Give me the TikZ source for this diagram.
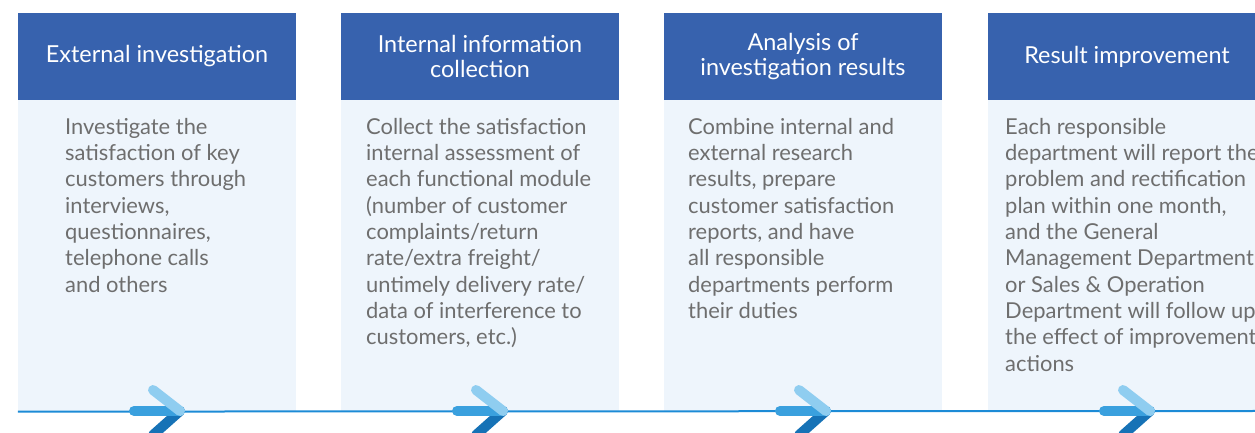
\documentclass[tikz,border=0pt]{standalone}
\usepackage{fontspec}
\setmainfont{Lato}
\usetikzlibrary{positioning}
\definecolor{headblue}{HTML}{3762AE}
\definecolor{bodyblue}{HTML}{EEF5FC}
\definecolor{textgrey}{HTML}{6E6E6E}
\definecolor{lineblue}{HTML}{1C8BD6}
\definecolor{arrowmid}{HTML}{3AA0DE}
\definecolor{arrowlight}{HTML}{8FCDF0}
\definecolor{arrowdark}{HTML}{1672B6}

\begin{document}
\begin{tikzpicture}[x=1bp, y=-1bp,
  head/.style={fill=headblue, text=white, minimum width=278bp, minimum height=87bp,
    inner sep=0pt, align=center, font=\fontsize{23.5}{26}\selectfont},
  body/.style={fill=bodyblue, minimum width=278bp, minimum height=311bp, inner sep=0pt},
  desc/.style={text=textgrey, align=left, inner sep=0pt, anchor=north west,
    font=\fontsize{22}{26.4}\selectfont},
  chev/.style={line width=10bp, line cap=round}
]
  \useasboundingbox (0,0) rectangle (1255,433);
  \clip (0,0) rectangle (1255,433);

  \node[head] (hd1) at (157,56.5) {External investigation};
  \node[head] (hd2) at (480,56.5) {Internal information\\collection};
  \node[head] (hd3) at (803,56.5) {Analysis of\\investigation results};
  \node[head] (hd4) at (1127,56.5) {Result improvement};

  \node[body, below=0pt of hd1] (bd1) {};
  \node[body, below=0pt of hd2] (bd2) {};
  \node[body, below=0pt of hd3] (bd3) {};
  \node[body, below=0pt of hd4] (bd4) {};

  \node[desc] (tx1) at (65,118) {Investigate the\\satisfaction of key\\customers through\\interviews,\\questionnaires,\\telephone calls\\and others};
  \node[desc] (tx2) at (366,118) {Collect the satisfaction\\internal assessment of\\each functional module\\(number of customer\\complaints/return\\rate/extra freight/\\untimely delivery rate/\\data of interference to\\customers, etc.)};
  \node[desc] (tx3) at (688,118) {Combine internal and\\external research\\results, prepare\\customer satisfaction\\reports, and have\\all responsible\\departments perform\\their duties};
  \node[desc] (tx4) at (1005,118) {Each responsible\\department will report the\\problem and rectification\\plan within one month,\\and the General\\Management Department\\or Sales \& Operation\\Department will follow up\\the effect of improvement\\actions};

  % time line
  \coordinate (lineend) at (1255,411);
  \draw[lineblue, line width=2bp] (bd1.south west) -- (lineend);

  % arrows
  \foreach \c in {157,480,803,1127} {
    \draw[chev, arrowdark] (\c+23,411) -- (\c-4,435);
    \draw[chev, arrowmid] (\c-23,411) -- (\c+23,411);
    \draw[chev, arrowlight] (\c-4,390) -- (\c+23,411);
  }
\end{tikzpicture}
\end{document}
